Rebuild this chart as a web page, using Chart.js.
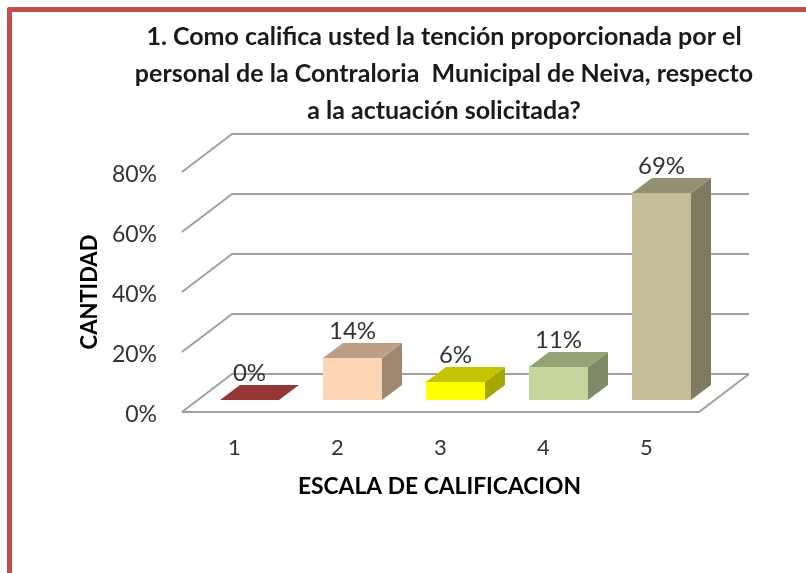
<!DOCTYPE html>
<html><head><meta charset="utf-8">
<style>
html,body{margin:0;padding:0;background:#fff;overflow:hidden}
#wrap{position:relative;width:806px;height:573px;overflow:hidden}
#frame{position:absolute;left:7px;top:7px;width:900px;height:700px;border:5px solid #C0504D;border-radius:2px}
canvas{position:absolute;left:0;top:0}
</style></head><body>
<div id="wrap"><div id="frame"></div><canvas id="c" width="806" height="573"></canvas></div>
<script src="https://cdn.jsdelivr.net/npm/chart.js@4"></script>
<script>
const categories = ['1','2','3','4','5'];
const values = [0,14,6,11,69];
const frontColors = ['#953735','#FCD5B5','#FFFF00','#C3D69B','#C4BD97'];
const topColors = ['#953735','#BF9E86','#C4C400','#93A373','#958F72'];
const sideColors = ['#7A2C2A','#A08772','#A6A600','#7F8C67','#7F7B61'];
const titleLines = ['1. Como califica usted la tención proporcionada por el','personal de la Contraloria  Municipal de Neiva, respecto','a la actuación solicitada?'];
const yAxisTitle = 'CANTIDAD';
const xAxisTitle = 'ESCALA DE CALIFICACION';
const FONT = 'Lato, Carlito, sans-serif';

const WALL = {front:-16, dx:50, dy:38, width:517, drop:12};
const BAR3D = {dx:20, dy:15};

const scene = {
  id:'scene',
  afterLayout(chart){
    const t = chart.titleBlock; t.left = 0; t.right = 888;
    const x = chart.scales.x; x.left -= 16; x.right -= 16;
    const y = chart.scales.y; y.top += 12; y.bottom += 12;
  },
  beforeDatasetsDraw(chart){
    const {ctx, chartArea:a, scales:{y}} = chart;
    const fx = a.left + WALL.front;
    ctx.save();
    ctx.strokeStyle = '#A0A0A0'; ctx.lineWidth = 2;
    y.ticks.forEach(t=>{
      const py = y.getPixelForValue(t.value) + WALL.drop;
      ctx.beginPath();
      ctx.moveTo(fx, py);
      ctx.lineTo(fx+WALL.dx, py-WALL.dy);
      ctx.lineTo(fx+WALL.dx+WALL.width, py-WALL.dy);
      ctx.stroke();
    });
    const p0 = y.getPixelForValue(0) + WALL.drop;
    ctx.beginPath();
    ctx.moveTo(fx, p0);
    ctx.lineTo(fx+WALL.width, p0);
    ctx.lineTo(fx+WALL.width+WALL.dx, p0-WALL.dy);
    ctx.stroke();
    ctx.restore();
  },
  afterDatasetsDraw(chart){
    const {ctx} = chart;
    const bars = chart.getDatasetMeta(0).data;
    ctx.save();
    bars.forEach((b,i)=>{
      const l=b.x-b.width/2, r=b.x+b.width/2, t=b.y, base=b.base;
      ctx.fillStyle = sideColors[i];
      ctx.beginPath();ctx.moveTo(r,t);ctx.lineTo(r+BAR3D.dx,t-BAR3D.dy);ctx.lineTo(r+BAR3D.dx,base-BAR3D.dy);ctx.lineTo(r,base);ctx.closePath();ctx.fill();
      ctx.fillStyle = topColors[i];
      ctx.beginPath();ctx.moveTo(l,t);ctx.lineTo(l+BAR3D.dx,t-BAR3D.dy);ctx.lineTo(r+BAR3D.dx,t-BAR3D.dy);ctx.lineTo(r,t);ctx.closePath();ctx.fill();
    });
    ctx.fillStyle = '#333';
    ctx.font = '24px '+FONT;
    ctx.textAlign = 'center'; ctx.textBaseline = 'middle';
    bars.forEach((b,i)=>{
      ctx.fillText(values[i]+'%', b.x, b.y-BAR3D.dy-12);
    });
    ctx.restore();
  }
};

new Chart(document.getElementById('c'),{
  type:'bar',
  data:{labels:categories,datasets:[{data:values,backgroundColor:frontColors,borderWidth:0,barPercentage:0.573,categoryPercentage:1}]},
  plugins:[scene],
  options:{
    responsive:false,animation:false,
    layout:{padding:{left:66,right:93,top:0,bottom:0}},
    plugins:{
      legend:{display:false},tooltip:{enabled:false},
      title:{display:true,text:titleLines,color:'#1a1a1a',font:{family:FONT,size:25,weight:'bold',lineHeight:37/25},padding:{top:18.5,bottom:30.5}}
    },
    scales:{
      x:{
        grid:{display:false},border:{display:false},
        ticks:{color:'#333',font:{family:FONT,size:22},labelOffset:-15,padding:27,maxRotation:0},
        title:{display:true,text:xAxisTitle,color:'#000',font:{family:FONT,size:22.8,weight:'bold',lineHeight:1.2},padding:{top:0,bottom:73}},
        afterFit(s){s.height=173;}
      },
      y:{
        min:0,max:80,
        grid:{display:false},border:{display:false},
        ticks:{stepSize:20,color:'#333',font:{family:FONT,size:23},labelOffset:15,padding:33,callback:v=>v+'%'},
        title:{display:true,text:yAxisTitle,color:'#000',font:{family:FONT,size:22,weight:'bold',lineHeight:1.2},padding:{top:11,bottom:0}},
        afterFit(s){s.width=132;}
      }
    }
  }
});
</script>
</body></html>
